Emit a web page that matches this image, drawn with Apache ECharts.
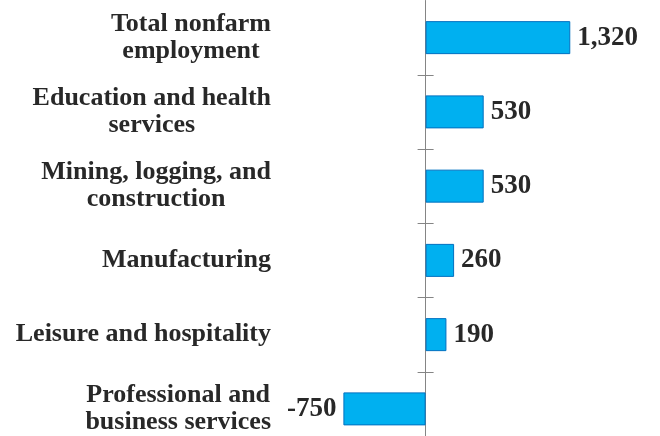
<!DOCTYPE html>
<html><head><meta charset="utf-8">
<script src="https://cdn.jsdelivr.net/npm/echarts@6/dist/echarts.min.js"></script>
<style>html,body{margin:0;padding:0;background:#fff}#c{width:660px;height:436px}</style>
</head><body><div id="c"></div>
<script>
const categories = [
  'Total nonfarm\nemployment',
  'Education and health\nservices',
  'Mining, logging, and\nconstruction',
  'Manufacturing',
  'Leisure and hospitality',
  'Professional and\nbusiness services'
];
const values = [1320, 530, 530, 260, 190, -750];

const FONT = '"Liberation Serif", "DejaVu Serif", serif';
const TEXT = '#282828';
const AXIS = '#858585';
const GRID_LEFT = 316;
const X_MIN = -1000;
const X_MAX = 1500;
const GRID_W = 274;

const chart = echarts.init(document.getElementById('c'), null, {renderer: 'canvas'});
chart.setOption({
  animation: false,
  grid: {left: GRID_LEFT, width: GRID_W, top: 0.5, height: 445.5, containLabel: false, outerBoundsMode: 'none'},
  xAxis: {
    type: 'value', min: X_MIN, max: X_MAX,
    axisLine: {show: false}, axisTick: {show: false},
    axisLabel: {show: false}, splitLine: {show: false}
  },
  yAxis: [
    {
      type: 'category', data: categories, inverse: true, position: 'left',
      axisLine: {show: true, onZero: true, lineStyle: {color: AXIS, width: 1}},
      axisTick: {show: true, inside: false, length: 8, lineStyle: {color: AXIS, width: 1},
                 interval: function (i) { return i !== 0; }},
      axisLabel: {
        margin: 45, align: 'right',
        color: TEXT, fontFamily: FONT, fontWeight: 'bold', fontSize: 26, lineHeight: 27,
        formatter: function (v) {
          return v.split('\n').map(function (l) { return '{c|' + l + '}'; }).join('\n');
        },
        rich: {c: {align: 'center', color: TEXT, fontFamily: FONT, fontWeight: 'bold', fontSize: 26, lineHeight: 27}}
      },
      splitLine: {show: false}
    },
    {
      type: 'category', data: categories, inverse: true, position: 'left',
      offset: -(GRID_W * (0 - X_MIN) / (X_MAX - X_MIN)),
      axisLine: {show: false, onZero: false},
      axisTick: {show: true, inside: true, length: 8, lineStyle: {color: AXIS, width: 1},
                 interval: function (i) { return i !== 0; }},
      axisLabel: {show: false},
      splitLine: {show: false}
    }
  ],
  series: [{
    type: 'bar',
    yAxisIndex: 0,
    data: values.map(function (v) {
      return {value: v, label: {position: v < 0 ? 'left' : 'right'}};
    }),
    barWidth: 33,
    itemStyle: {color: '#00B0F0', borderColor: '#0070C0', borderWidth: 1},
    label: {
      show: true, distance: 7,
      color: TEXT, fontFamily: FONT, fontWeight: 'bold', fontSize: 27,
      formatter: function (p) { return p.value.toLocaleString('en-US'); }
    }
  }]
});
</script>
</body></html>
